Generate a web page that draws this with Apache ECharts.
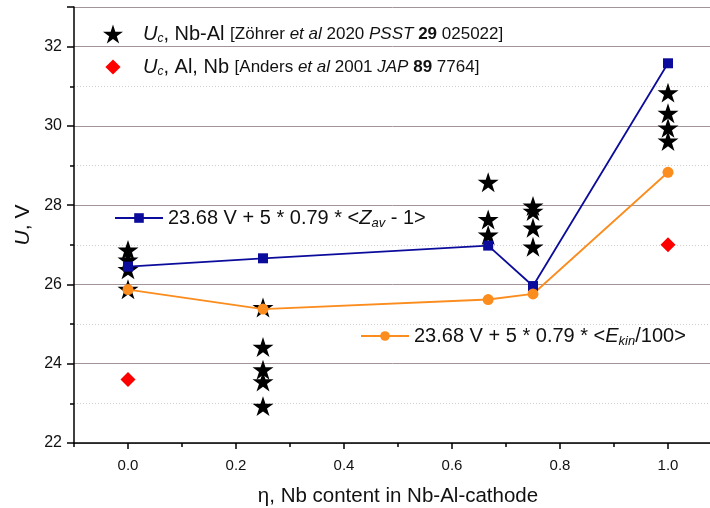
<!DOCTYPE html>
<html>
<head>
<meta charset="utf-8">
<script src="https://cdn.jsdelivr.net/npm/echarts@6/dist/echarts.min.js"></script>
<style>
  html, body { margin: 0; padding: 0; background: #fff; }
  #chart { width: 710px; height: 508px; }
</style>
</head>
<body>
<div id="chart"></div>
<script>
// model curves
const etaModel = [0, 0.25, 0.667, 0.75, 1.0]
const uZav = [26.45, 26.66, 26.98, 25.96, 31.58]
const uEkin = [25.87, 25.38, 25.62, 25.76, 28.83]

// measured Uc, Nb-Al (Zöhrer 2020)
const etaStar = [0, 0, 0, 0, 0.25, 0.25, 0.25, 0.25, 0.25, 0.667, 0.667, 0.667, 0.75, 0.75, 0.75, 0.75, 1, 1, 1, 1]
const uStar = [26.87, 26.62, 26.38, 25.88, 25.42, 24.42, 23.85, 23.55, 22.93, 28.58, 27.64, 27.25, 27.98, 27.85, 27.43, 26.95, 30.84, 30.32, 29.95, 29.62]

// Uc, Al, Nb (Anders 2001)
const etaAnders = [0, 1]
const uAnders = [23.6, 27.0]

const xMajor = [0, 0.2, 0.4, 0.6, 0.8, 1.0]
const xMinor = [-0.1, 0.1, 0.3, 0.5, 0.7, 0.9, 1.1]

const FONT = '"Liberation Sans", Arial, sans-serif'
const BLUE = '#0c0c9c'
const ORANGE = '#fb8c1e'
const RED = '#ff0000'
const STAR = 'path://M50,0 L61.2,34.5 L97.6,34.5 L68.2,55.9 L79.4,90.5 L50,69.1 L20.6,90.5 L31.8,55.9 L2.4,34.5 L38.8,34.5 Z'
// diamond with an empty margin so the legend icon comes out smaller than the star
const DIAMOND_ICON = 'path://M0,0 L0,0 M50,10 L90,50 L50,90 L10,50 Z M100,100 L100,100'

const pairs = (xs, ys) => xs.map((x, i) => [x, ys[i]])

const chart = echarts.init(document.getElementById('chart'))

const legendRich = {
  i: { fontFamily: FONT, fontSize: 20, fontStyle: 'italic', color: '#111', lineHeight: 22 },
  s: { fontFamily: FONT, fontSize: 12, fontStyle: 'italic', color: '#111', lineHeight: 12, verticalAlign: 'bottom' },
  n: { fontFamily: FONT, fontSize: 20, color: '#111', lineHeight: 22 },
  r: { fontFamily: FONT, fontSize: 17, color: '#111', lineHeight: 22 },
  ri: { fontFamily: FONT, fontSize: 17, fontStyle: 'italic', color: '#111', lineHeight: 22 },
  rb: { fontFamily: FONT, fontSize: 17, fontWeight: 'bold', color: '#111', lineHeight: 22 },
  t: { fontFamily: FONT, fontSize: 20, color: '#111', lineHeight: 24 },
  ti: { fontFamily: FONT, fontSize: 20, fontStyle: 'italic', color: '#111', lineHeight: 24 },
  ts: { fontFamily: FONT, fontSize: 13, fontStyle: 'italic', color: '#111', lineHeight: 13, verticalAlign: 'bottom' },
}

const labels = {
  nbal: '{i|U}{s|c}{n|, Nb-Al }{r|[Zöhrer }{ri|et al}{r| 2020 }{ri|PSST}{rb| 29}{r| 025022]}',
  alnb: '{i|U}{s|c}{n|, Al, Nb }{r|[Anders }{ri|et al}{r| 2001 }{ri|JAP}{rb| 89}{r| 7764]}',
  zav: '{t|23.68 V + 5 * 0.79 * <}{ti|Z}{ts|av}{t| - 1>}',
  ekin: '{t|23.68 V + 5 * 0.79 * <}{ti|E}{ts|kin}{t|/100>}',
}

chart.setOption({
  animation: false,
  // the frame runs a little past the right edge of the picture (to eta = 1.1)
  grid: { left: 74, right: -12, top: 7, bottom: 65, outerBoundsMode: 'none' },
  legend: [
    {
      data: ['nbal', { name: 'alnb', icon: DIAMOND_ICON }],
      orient: 'vertical',
      left: 98,
      top: 19,
      itemWidth: 50,
      itemHeight: 19,
      itemGap: 12,
      formatter: n => labels[n],
      textStyle: { rich: legendRich },
    },
    {
      data: ['zav'],
      left: 109,
      top: 203,
      itemWidth: 48,
      itemHeight: 12,
      formatter: n => labels[n],
      textStyle: { rich: legendRich },
    },
    {
      data: ['ekin'],
      left: 355,
      top: 321,
      itemWidth: 48,
      itemHeight: 12,
      formatter: n => labels[n],
      textStyle: { rich: legendRich },
    },
  ],
  xAxis: [
    {
      type: 'value',
      min: -0.1,
      max: 1.1,
      name: 'η, Nb content in Nb-Al-cathode',
      nameLocation: 'middle',
      nameGap: 43,
      nameTextStyle: { fontFamily: FONT, fontSize: 20.5, color: '#111' },
      axisLine: { onZero: false, lineStyle: { color: '#000', width: 1.5 } },
      axisTick: { customValues: xMajor, length: 6, lineStyle: { color: '#000', width: 1.5 } },
      axisLabel: {
        customValues: xMajor,
        margin: 15,
        fontFamily: FONT,
        fontSize: 15,
        color: '#111',
        formatter: v => v.toFixed(1),
      },
      splitLine: { show: false },
    },
    {
      type: 'value',
      position: 'bottom',
      min: -0.1,
      max: 1.1,
      axisLine: { show: false, onZero: false },
      axisTick: { customValues: xMinor, length: 4, lineStyle: { color: '#000', width: 1.5 } },
      axisLabel: { show: false },
      splitLine: { show: false },
    },
  ],
  yAxis: {
    type: 'value',
    min: 22,
    max: 33,
    interval: 2,
    name: '{i|U}{n|, V}',
    nameLocation: 'middle',
    nameGap: 38,
    nameTextStyle: {
      rich: {
        i: { fontFamily: FONT, fontSize: 21, fontStyle: 'italic', color: '#111' },
        n: { fontFamily: FONT, fontSize: 21, color: '#111' },
      },
    },
    axisLine: { show: true, onZero: false, lineStyle: { color: '#000', width: 1.5 } },
    axisTick: { length: 7, lineStyle: { color: '#000', width: 1.5 } },
    minorTick: { show: true, splitNumber: 2, length: 4, lineStyle: { color: '#000', width: 1.5 } },
    axisLabel: { margin: 12, fontFamily: FONT, fontSize: 16, color: '#111', showMaxLabel: false },
    splitLine: { show: true, lineStyle: { color: '#a39499', width: 1 } },
    minorSplitLine: { show: true, lineStyle: { color: '#cfcfcf', width: 1, type: [1, 2] } },
  },
  series: [
    {
      name: 'nbal',
      type: 'scatter',
      symbol: STAR,
      symbolKeepAspect: true,
      symbolSize: 21,
      itemStyle: { color: '#000', opacity: 1 },
      data: pairs(etaStar, uStar),
      z: 2,
    },
    {
      name: 'alnb',
      type: 'scatter',
      symbol: 'diamond',
      symbolSize: 15,
      itemStyle: { color: RED, opacity: 1 },
      data: pairs(etaAnders, uAnders),
      z: 2,
    },
    {
      name: 'zav',
      type: 'line',
      symbol: 'rect',
      symbolSize: 10,
      showAllSymbol: true,
      lineStyle: { color: BLUE, width: 1.8 },
      itemStyle: { color: BLUE },
      data: pairs(etaModel, uZav),
      z: 3,
    },
    {
      name: 'ekin',
      type: 'line',
      symbol: 'circle',
      symbolSize: 11,
      showAllSymbol: true,
      lineStyle: { color: ORANGE, width: 1.8 },
      itemStyle: { color: ORANGE },
      data: pairs(etaModel, uEkin),
      z: 3,
    },
  ],
})
</script>
</body>
</html>
